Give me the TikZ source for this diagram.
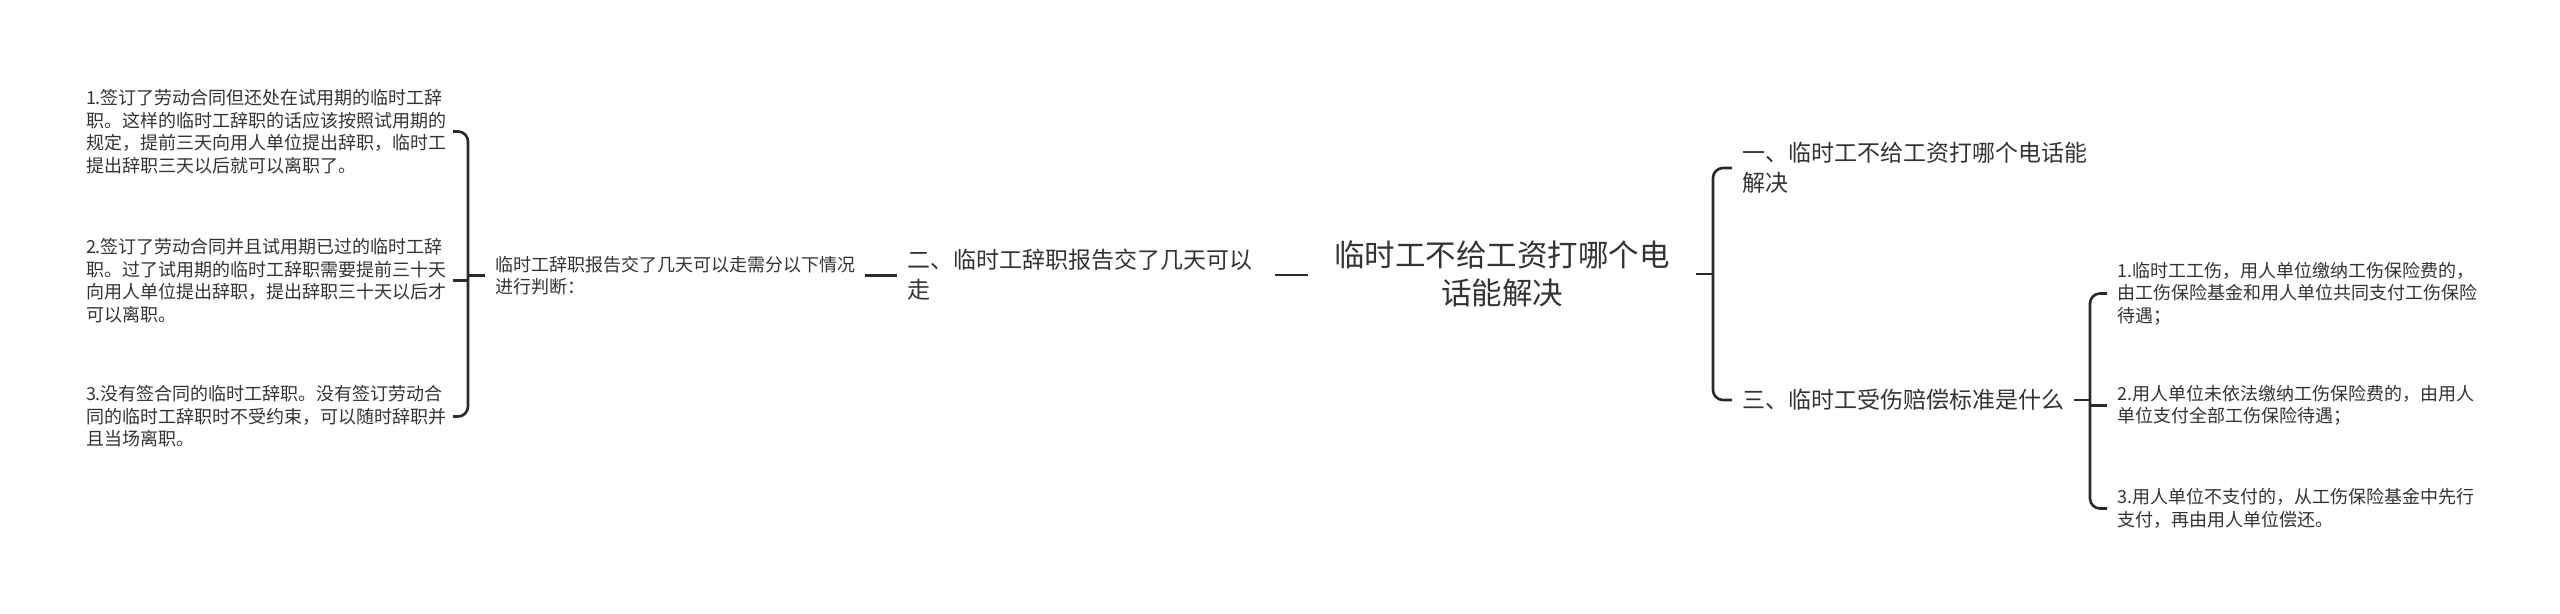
\documentclass[tikz,border=0pt]{standalone}
\usepackage{fontspec}
\setmainfont{Noto Sans CJK SC}
\usepackage{tikz}
\usetikzlibrary{calc}
\definecolor{inkgray}{HTML}{333333}
\definecolor{linegray}{HTML}{2A2A2A}

\begin{document}
\begin{tikzpicture}[x=0.5pt,y=-0.5pt,inner ysep=0pt,inner xsep=5pt,outer sep=0pt,
    every node/.style={text=inkgray},
    small/.style={font=\fontsize{9}{11.25}\selectfont, align=left},
    mid/.style={font=\fontsize{11.5}{15}\selectfont, align=left},
    big/.style={font=\fontsize{15.25}{19}\selectfont, align=center},
    link/.style={draw=linegray, line width=1.3pt}]
    \useasboundingbox (0,0) rectangle (2560,614);

    % left column
    \node[small, anchor=west, text width=178.5pt] (tryout) at (76,131.5)
    {1.签订了劳动合同但还处在试用期的临时工辞\\职。这样的临时工辞职的话应该按照试用期的\\规定，提前三天向用人单位提出辞职，临时工\\提出辞职三天以后就可以离职了。};
    \node[small, anchor=west, text width=178.5pt] (passed) at (76,280.5)
    {2.签订了劳动合同并且试用期已过的临时工辞\\职。过了试用期的临时工辞职需要提前三十天\\向用人单位提出辞职，提出辞职三十天以后才\\可以离职。};
    \node[small, anchor=west, text width=178.5pt] (nocontract) at (76,416.5)
    {3.没有签合同的临时工辞职。没有签订劳动合\\同的临时工辞职时不受约束，可以随时辞职并\\且当场离职。};

    \node[small, anchor=west] (judge) at (485,275.5)
    {临时工辞职报告交了几天可以走需分以下情况\\进行判断：};

    % main branch
    \node[mid, anchor=west, text width=179pt] (howlong) at (897,275)
    {二、临时工辞职报告交了几天可以\\走};
    \node[big, text width=184pt] (root) at (1502,274)
    {临时工不给工资打哪个电\\话能解决};

    % right column
    \node[mid, anchor=west] (whocall) at (1732,168)
    {一、临时工不给工资打哪个电话能\\解决};
    \node[mid, anchor=west] (injury) at (1732,400)
    {三、临时工受伤赔偿标准是什么};

    \node[small, anchor=west] (paid) at (2107,293.5)
    {1.临时工工伤，用人单位缴纳工伤保险费的，\\由工伤保险基金和用人单位共同支付工伤保险\\待遇；};
    \node[small, anchor=west] (unpaid) at (2107,405.5)
    {2.用人单位未依法缴纳工伤保险费的，由用人\\单位支付全部工伤保险待遇；};
    \node[small, anchor=west] (refund) at (2107,508.5)
    {3.用人单位不支付的，从工伤保险基金中先行\\支付，再由用人单位偿还。};

    % brackets
    \coordinate (lbar) at (468,275);
    \coordinate (rbar) at (1713,275);
    \coordinate (ibar) at (2090,400);

    \draw[link, rounded corners=5pt] (tryout.east) -- (tryout.east -| lbar)
        -- (nocontract.east -| lbar) -- (nocontract.east);
    \draw[link] (passed.east) -- (passed.east -| lbar);
    \draw[link] (judge.west) -- (judge.west -| lbar);
    \draw[link] (judge.east) -- (judge.east -| howlong.west);
    \draw[link] (howlong.east) -- (howlong.east -| root.west);
    \draw[link] (root.east) -- (root.east -| rbar);
    \draw[link, rounded corners=5pt] (whocall.west) -- (whocall.west -| rbar)
        -- (injury.west -| rbar) -- (injury.west);
    \draw[link] (injury.east) -- (injury.east -| ibar);
    \draw[link, rounded corners=5pt] (paid.west) -- (paid.west -| ibar)
        -- (refund.west -| ibar) -- (refund.west);
    \draw[link] (unpaid.west) -- (unpaid.west -| ibar);
\end{tikzpicture}
\end{document}
